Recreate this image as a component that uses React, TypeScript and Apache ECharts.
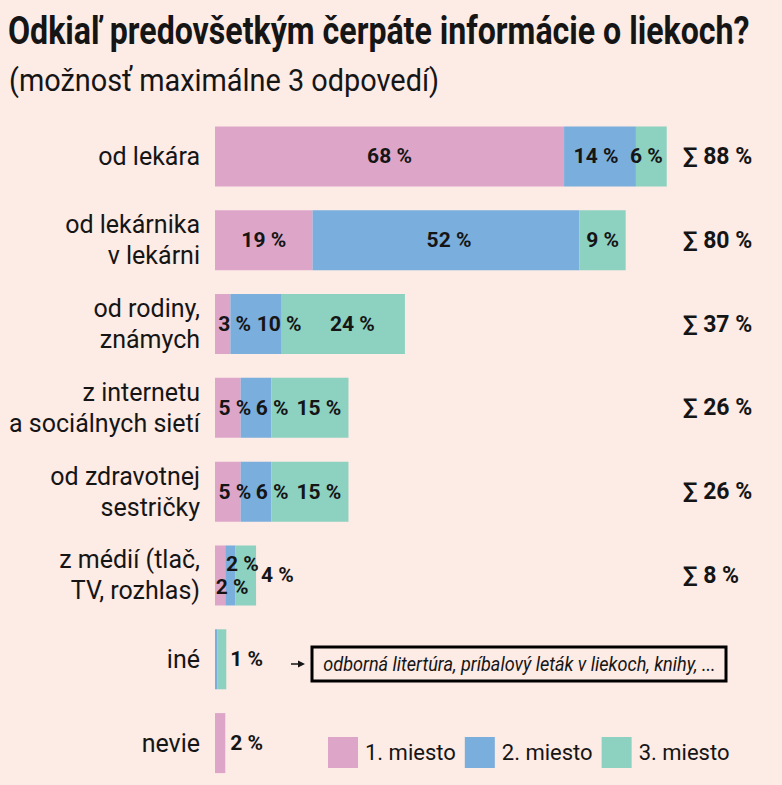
import React, { useEffect, useRef } from "react";
import * as echarts from "echarts";

const categories = [
  "od lekára",
  "od lekárnika\nv lekárni",
  "od rodiny,\nznámych",
  "z internetu\na sociálnych sietí",
  "od zdravotnej\nsestričky",
  "z médií (tlač,\nTV, rozhlas)",
  "iné",
  "nevie",
];
const firstPlace = [68, 19, 3, 5, 5, 2, 0, 2];
const secondPlace = [14, 52, 10, 6, 6, 2, 0.5, 0];
const thirdPlace = [6, 9, 24, 15, 15, 4, 1.7, 0];
const printedThirdIne = 1;
const totals = [88, 80, 37, 26, 26, 8, null, null];
const seriesNames = ["1. miesto", "2. miesto", "3. miesto"];
const colors = ["#dda6c9", "#7aaedd", "#8dd1c1"];
const titleText = "Odkiaľ predovšetkým čerpáte informácie o liekoch?";
const subtitleText = "(možnosť maximálne 3 odpovedí)";
const noteText = "odborná litertúra, príbalový leták v liekoch, knihy, ...";

const FONT = "Roboto, 'Liberation Sans', sans-serif";
const BG = "#fdebe5";
const INK = "#151515";

const pct = (v: number) => `${v} %`;

// label placement tweaks per series, keyed by category index
const labelTweaks: Record<number, any>[] = [
  { 2: { offset: [12, 0] }, 3: { offset: [7, 0] }, 4: { offset: [7, 0] }, 5: { offset: [12, 12] }, 7: { position: "right", distance: 5 } },
  { 0: { offset: [-4, 0] }, 1: { offset: [3, 0] }, 2: { offset: [23, 0] }, 3: { offset: [16, 0] }, 4: { offset: [16, 0] }, 5: { offset: [12, -11] } },
  { 0: { offset: [-5, 0] }, 2: { offset: [9, 0] }, 3: { offset: [9, 0] }, 4: { offset: [9, 0] }, 5: { position: "right", distance: 5 }, 6: { position: "right", distance: 4, formatter: pct(printedThirdIne) } },
];

function makeData(values: number[], s: number) {
  return values.map((v, i) => {
    const item: any = { value: v };
    if (v === 0 || (s === 1 && i === 6)) item.label = { show: false };
    else if (labelTweaks[s][i]) item.label = labelTweaks[s][i];
    return item;
  });
}

function measure(text: string, font: string) {
  const ctx = document.createElement("canvas").getContext("2d");
  if (!ctx) return 1;
  ctx.font = font;
  return ctx.measureText(text).width || 1;
}

export default function App() {
  const ref = useRef<HTMLDivElement>(null);
  useEffect(() => {
    if (!ref.current) return;
    const chart = echarts.init(ref.current, null, { renderer: "svg" });
    const valueSets = [firstPlace, secondPlace, thirdPlace];
    const titleScale = 742 / measure(titleText, "bold 38px Roboto");
    const subScale = 430 / measure(subtitleText, "32px Roboto");
    const noteScale = 393 / measure(noteText, "italic 21px Roboto");
    const option: any = {
      animation: false,
      backgroundColor: BG,
      textStyle: { fontFamily: FONT },
      legend: {
        left: 328,
        top: 737,
        width: 454,
        padding: 0,
        itemWidth: 30,
        itemHeight: 31,
        itemGap: 9,
        icon: "rect",
        data: seriesNames,
        textStyle: { fontFamily: FONT, fontSize: 22, color: INK, padding: [0, 0, 0, 2] },
      },
      grid: { left: 215, top: 114.5, width: 462, height: 680, containLabel: false },
      xAxis: { type: "value", min: 0, max: 90, show: false },
      yAxis: [
        {
          type: "category",
          inverse: true,
          data: categories,
          axisLine: { show: false },
          axisTick: { show: false },
          axisLabel: { fontFamily: FONT, fontSize: 25, lineHeight: 31, color: INK, margin: 15, align: "right" },
        },
        {
          type: "category",
          inverse: true,
          position: "right",
          data: totals.map((t) => (t == null ? "" : `∑ ${t} %`)),
          axisLine: { show: false },
          axisTick: { show: false },
          axisLabel: { fontFamily: FONT, fontSize: 23, fontWeight: "bold", color: INK, margin: 6 },
        },
      ],
      series: valueSets.map((vals, s) => ({
        name: seriesNames[s],
        type: "bar",
        stack: "total",
        barWidth: 60,
        yAxisIndex: 0,
        itemStyle: { color: colors[s] },
        label: {
          show: true,
          position: "inside",
          fontFamily: FONT,
          fontSize: 21,
          fontWeight: "bold",
          color: INK,
          formatter: (p: any) => pct(p.value),
        },
        data: makeData(vals, s),
      })),
      graphic: [
        {
          type: "text",
          x: 8,
          y: 31,
          scaleX: titleScale,
          style: { text: titleText, fontFamily: FONT, fontSize: 38, fontWeight: "bold", fill: INK, align: "left", verticalAlign: "middle" },
        },
        {
          type: "text",
          x: 9,
          y: 80,
          scaleX: subScale,
          style: { text: subtitleText, fontFamily: FONT, fontSize: 32, fill: INK, align: "left", verticalAlign: "middle" },
        },
        { type: "line", shape: { x1: 291, y1: 664, x2: 300, y2: 664 }, style: { stroke: INK, lineWidth: 1.5 } },
        { type: "polygon", shape: { points: [[298, 660.5], [305, 664], [298, 667.5]] }, style: { fill: INK } },
        {
          type: "rect",
          shape: { x: 312, y: 647, width: 414, height: 34 },
          style: { fill: "none", stroke: "#000", lineWidth: 3 },
        },
        {
          type: "text",
          x: 519.5,
          y: 664,
          scaleX: noteScale,
          style: {
            text: noteText,
            fontFamily: FONT,
            fontSize: 21,
            fontStyle: "italic",
            fill: INK,
            align: "center",
            verticalAlign: "middle",
          },
        },
      ],
    };
    chart.setOption(option);
    return () => chart.dispose();
  }, []);
  return <div ref={ref} style={{ position: "absolute", left: 0, top: 0, width: 782, height: 785 }} />;
}
